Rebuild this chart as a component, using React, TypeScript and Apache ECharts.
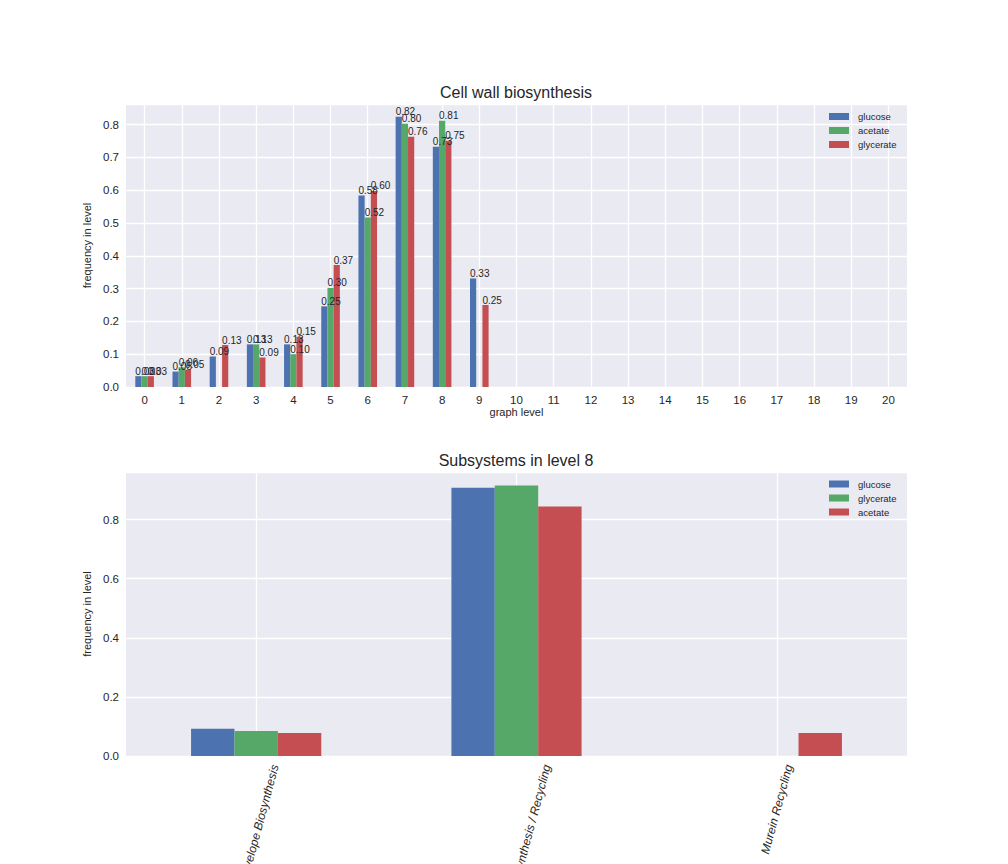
import React, { useEffect, useRef } from "react";
import * as echarts from "echarts";

// ---------- data ----------
const levels = ["0", "1", "2", "3", "4", "5", "6", "7", "8", "9", "10", "11", "12", "13", "14", "15", "16", "17", "18", "19", "20"];
const glucoseLevel = [0.033, 0.047, 0.093, 0.13, 0.13, 0.246, 0.584, 0.824, 0.733, 0.331, 0, 0, 0, 0, 0, 0, 0, 0, 0, 0, 0];
const acetateLevel = [0.033, 0.06, 0, 0.13, 0.1, 0.302, 0.517, 0.803, 0.812, 0, 0, 0, 0, 0, 0, 0, 0, 0, 0, 0, 0];
const glycerateLevel = [0.033, 0.053, 0.128, 0.09, 0.153, 0.372, 0.598, 0.763, 0.751, 0.25, 0, 0, 0, 0, 0, 0, 0, 0, 0, 0, 0];

const subsystems = ["Cell Envelope Biosynthesis", "Lipopolysaccharide Biosynthesis / Recycling", "Murein Recycling"];
const glucoseSub = [0.092, 0.908, 0];
const glycerateSub = [0.085, 0.915, 0];
const acetateSub = [0.078, 0.844, 0.078];

// ---------- style ----------
const FONT = "'Liberation Sans', Arial, sans-serif";
const TEXT = "#262626";
const BG = "#EAEAF2";
const BLUE = "#4C72B0";
const GREEN = "#55A868";
const RED = "#C44E52";
const LABEL_SIZE = 12;
const ROT = 75;

function barSeries(name: string, data: number[], color: string, idx: number, withLabel: boolean) {
  return {
    type: "bar",
    name,
    data,
    xAxisIndex: idx,
    yAxisIndex: idx,
    barWidth: "16.67%",
    barGap: "0%",
    itemStyle: { color },
    label: withLabel
      ? {
          show: true,
          position: [0, 0],
          align: "left",
          verticalAlign: "bottom",
          fontSize: 10,
          fontFamily: FONT,
          color: TEXT,
          formatter: (p: any) => (p.value > 0 ? Number(p.value).toFixed(2) : ""),
        }
      : { show: false },
  };
}

const gridLine = { show: true, lineStyle: { color: "#ffffff", width: 1.3 } };

function yAxis(idx: number, max: number, interval: number) {
  return {
    type: "value",
    gridIndex: idx,
    min: 0,
    max,
    interval,
    axisLine: { show: false },
    axisTick: { show: false },
    axisLabel: {
      margin: 7,
      fontSize: 11.5,
      fontFamily: FONT,
      color: TEXT,
      showMaxLabel: false,
      formatter: (v: number) => v.toFixed(1),
    },
    splitLine: gridLine,
    name: "frequency in level",
    nameLocation: "middle",
    nameGap: 30,
    nameTextStyle: { fontSize: 11, fontFamily: FONT, color: TEXT },
  };
}

function legend(top: number, names: string[]) {
  return {
    orient: "vertical",
    left: 829,
    top,
    padding: 0,
    itemWidth: 20,
    itemHeight: 7,
    itemGap: 3,
    icon: "rect",
    data: names,
    textStyle: { fontSize: 9.5, lineHeight: 11, fontFamily: FONT, color: TEXT, padding: [0, 0, 0, 4] },
  };
}

export default function App() {
  const ref = useRef<HTMLDivElement>(null);
  useEffect(() => {
    const chart = echarts.init(ref.current!, null, { renderer: "svg" });
    const option: any = {
      animation: false,
      backgroundColor: "#ffffff",
      textStyle: { fontFamily: FONT },
      title: [
        {
          text: "Cell wall biosynthesis",
          left: 516,
          top: 84,
          textAlign: "center",
          padding: 0,
          textStyle: { fontSize: 16, fontWeight: "normal", fontFamily: FONT, color: TEXT },
        },
        {
          text: "Subsystems in level 8",
          left: 516,
          top: 452,
          textAlign: "center",
          padding: 0,
          textStyle: { fontSize: 16, fontWeight: "normal", fontFamily: FONT, color: TEXT },
        },
      ],
      legend: [legend(111, ["glucose", "acetate", "glycerate"]), legend(478.5, ["glucose ", "glycerate ", "acetate "])],
      grid: [
        { left: 126, width: 781, top: 104, height: 283, show: true, backgroundColor: BG, borderWidth: 0 },
        { left: 126, width: 781, top: 472, height: 284, show: true, backgroundColor: BG, borderWidth: 0 },
      ],
      xAxis: [
        {
          type: "category",
          gridIndex: 0,
          data: levels,
          axisLine: { show: false },
          axisTick: { show: false, alignWithLabel: true },
          axisLabel: { margin: 7, fontSize: 11.5, fontFamily: FONT, color: TEXT, interval: 0 },
          splitLine: { ...gridLine, alignWithLabel: true, interval: 0 },
          name: "graph level",
          nameLocation: "middle",
          nameGap: 19,
          nameTextStyle: { fontSize: 11, fontFamily: FONT, color: TEXT },
        },
        {
          type: "category",
          gridIndex: 1,
          data: subsystems,
          axisLine: { show: false },
          axisTick: { show: false, alignWithLabel: true },
          axisLabel: { show: false },
          splitLine: { ...gridLine, alignWithLabel: true, interval: 0 },
        },
      ],
      yAxis: [yAxis(0, 0.863, 0.1), yAxis(1, 0.961, 0.2)],
      series: [
        barSeries("glucose", glucoseLevel, BLUE, 0, true),
        barSeries("acetate", acetateLevel, GREEN, 0, true),
        barSeries("glycerate", glycerateLevel, RED, 0, true),
        barSeries("glucose ", glucoseSub, BLUE, 1, false),
        barSeries("glycerate ", glycerateSub, GREEN, 1, false),
        barSeries("acetate ", acetateSub, RED, 1, false),
      ],
    };
    chart.setOption(option);

    // rotated, centred category labels for the lower chart (matplotlib style)
    const canvas = document.createElement("canvas");
    const ctx = canvas.getContext("2d")!;
    ctx.font = `italic ${LABEL_SIZE}px 'Liberation Sans'`;
    const theta = (ROT * Math.PI) / 180;
    const axisY = chart.convertToPixel({ yAxisIndex: 1 } as any, 0) as unknown as number;
    const graphics = subsystems.map((s) => {
      const x = chart.convertToPixel({ xAxisIndex: 1 } as any, s) as unknown as number;
      const L = ctx.measureText(s).width;
      const H = LABEL_SIZE * 1.15;
      const h = L * Math.sin(theta) + H * Math.cos(theta);
      return {
        type: "text",
        x,
        y: axisY + 7 + h / 2,
        rotation: theta,
        silent: true,
        style: {
          text: s,
          fontSize: LABEL_SIZE,
          fontStyle: "italic",
          fontFamily: FONT,
          fill: TEXT,
          align: "center",
          verticalAlign: "middle",
        },
      };
    });
    chart.setOption({ graphic: graphics });
    return () => chart.dispose();
  }, []);
  return <div ref={ref} style={{ position: "fixed", left: 0, top: 0, width: 1008, height: 864 }} />;
}
